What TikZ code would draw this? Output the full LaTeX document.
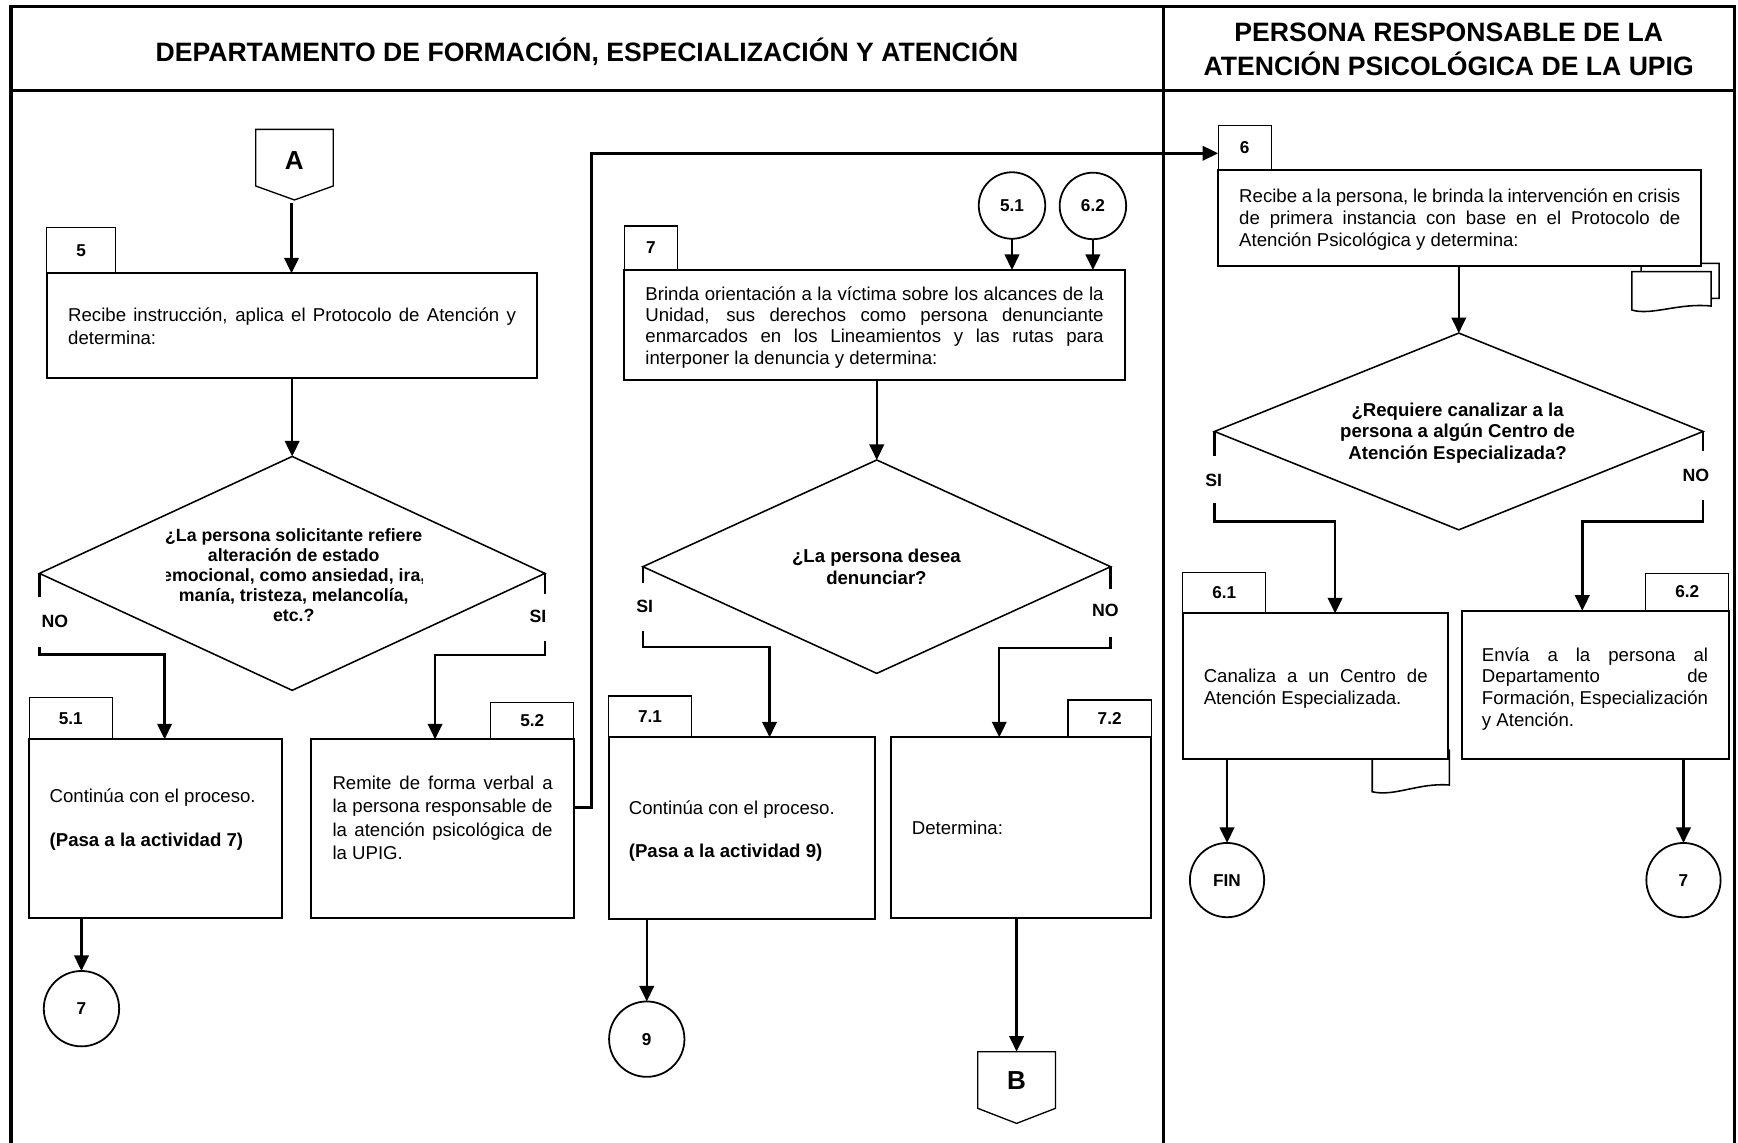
\documentclass[tikz,border=0pt]{standalone}
\usepackage{fontspec}
\setmainfont{Liberation Sans}
\usetikzlibrary{arrows.meta,shapes.geometric,calc}

% one line of justified text, stretched to the given width (pt)
\newcommand\jline[2]{\makebox[#1pt][s]{#2}}
% last line of a paragraph: left aligned in the same width
\newcommand\lline[2]{\makebox[#1pt][l]{#2}}

\begin{document}
\begin{tikzpicture}[x=1pt,y=-1pt,
  every node/.style={inner sep=0pt,outer sep=0pt},
  frame/.style={line width=3pt},
  procbox/.style={draw,rectangle,line width=1.8pt,fill=white},
  tabbox/.style={draw,rectangle,line width=1.1pt,font=\fontsize{15.5}{18}\selectfont\bfseries},
  decision/.style={draw,diamond,line width=1.4pt},
  connector/.style={draw,circle,line width=1.6pt,fill=white,font=\fontsize{15.5}{18}\selectfont\bfseries},
  pagelinkline/.style={line width=1.2pt},
  docshape/.style={draw,line width=1.4pt,fill=white},
  flow/.style={line width=2.2pt},
  arr/.style={flow,-{Triangle[length=14pt,width=13pt]}},
  body/.style={align=left,anchor=west,font=\fontsize{16.8}{19.4}\selectfont},
  question/.style={align=center,font=\fontsize{16.8}{19.5}\selectfont\bfseries},
  yn/.style={font=\fontsize{16}{18}\selectfont\bfseries},
  pagelink/.style={font=\fontsize{23.5}{26}\selectfont\bfseries},
  header/.style={font=\fontsize{24}{26}\selectfont\bfseries},
]
\useasboundingbox (0,0) rectangle (1568,1031);

% ---------- swimlane frame ----------
\draw[frame] (10,1031) -- (10,6) -- (1565,6) -- (1565,1031);
\draw[frame] (10,81.8) -- (1565,81.8);
\draw[frame] (1049.5,6) -- (1049.5,1031);

\node[header,anchor=base] (hdrL) at (529.5,55.3)
  {DEPARTAMENTO DE FORMACIÓN, ESPECIALIZACIÓN Y ATENCIÓN};
\node[header,align=center] (hdrR) at (1307,47.6)
  {\strut PERSONA RESPONSABLE DE LA\\ATENCIÓN PSICOLÓGICA DE LA UPIG\strut};

% ---------- left lane ----------
% off-page connector A
\draw[pagelinkline] (230.7,116.7) -- (300.6,116.7) -- (300.6,167.8)
  -- (265.65,180.4) -- (230.7,167.8) -- cycle;
\node[pagelink] (A) at (265.6,144.4) {A};
\coordinate (a1) at (263,183.4);

% activity 5
\node[procbox,minimum width=442.1pt,minimum height=94.1pt] (b5) at (263.25,293.65) {};
\node[tabbox,minimum width=62.2pt,minimum height=41.6pt,anchor=south west] (t5) at (b5.north west) {5};
\node[body,font=\fontsize{16.8}{20.4}\selectfont] (b5t) at (61.5,296.6)
  {\jline{404}{\strut Recibe instrucción, aplica el Protocolo de Atención y}\\
   \lline{404}{determina:\strut}};

% decision 5 (its text is cut by the text frame on both sides)
\node[decision,minimum width=456pt,minimum height=211pt] (d5) at (263.6,517.3) {};
\begin{scope}
  \clip (150,460) rectangle (381.5,580);
  \node[question,font=\fontsize{16}{18}\selectfont\bfseries] (q5) at (265,521.3)
    {\strut¿La persona solicitante refiere\\alteración de estado\\emocional, como ansiedad, ira,\\manía, tristeza, melancolía,\\etc.?\strut};
\end{scope}

% activities 5.1 and 5.2
\node[procbox,minimum width=228.1pt,minimum height=161.5pt] (b51) at (140.35,747.75) {};
\node[tabbox,minimum width=75.2pt,minimum height=37.6pt,anchor=south west] (t51) at (b51.north west) {5.1};
\node[body] (b51t) at (44.8,740.2)
  {\strut Continúa con el proceso.\\[20.3pt]\textbf{(Pasa a la actividad 7)}\strut};

\node[procbox,minimum width=236.7pt,minimum height=161.5pt] (b52) at (399.35,747.75) {};
\node[tabbox,minimum width=75.1pt,minimum height=33pt,anchor=south east] (t52) at (b52.north east) {5.2};
\node[body,font=\fontsize{16.8}{20.9}\selectfont] (b52t) at (300,739.6)
  {\jline{198.6}{\strut Remite de forma verbal a}\\
   \jline{198.6}{la persona responsable de}\\
   \jline{198.6}{la atención psicológica de}\\
   \lline{198.6}{la UPIG.\strut}};

\node[connector,minimum size=68pt] (c7a) at (73.5,910) {7};

% ---------- middle lane ----------
\node[connector,minimum size=60pt] (c51) at (913,185.4) {5.1};
\node[connector,minimum size=60pt] (c62) at (986,185.8) {6.2};

\node[procbox,minimum width=451.8pt,minimum height=99.2pt] (b7) at (789.1,293.2) {};
\node[tabbox,minimum width=48pt,minimum height=39.7pt,anchor=south west] (t7) at (b7.north west) {7};
\node[body,font=\fontsize{16.8}{19.3}\selectfont] (b7t) at (582.3,295.9)
  {\jline{413.4}{\strut Brinda orientación a la víctima sobre los alcances de la}\\
   \jline{413.4}{Unidad, sus derechos como persona denunciante}\\
   \jline{413.4}{enmarcados en los Lineamientos y las rutas para}\\
   \lline{413.4}{interponer la denuncia y determina:\strut}};

\node[decision,minimum width=422pt,minimum height=192.5pt] (d7) at (791,511.25) {};
\node[question,font=\fontsize{16.8}{19.6}\selectfont\bfseries] (q7) at (790.7,513.6)
  {\strut¿La persona desea\\denunciar?\strut};

\node[procbox,minimum width=240.3pt,minimum height=164.2pt] (b71) at (669.15,747.3) {};
\node[tabbox,minimum width=75pt,minimum height=37.2pt,anchor=south west] (t71) at (b71.north west) {7.1};
\node[body] (b71t) at (567.3,750.5)
  {\strut Continúa con el proceso.\\[19.7pt]\textbf{(Pasa a la actividad 9)}\strut};

\node[procbox,minimum width=234.9pt,minimum height=163.3pt] (b72) at (921.15,746.85) {};
\node[tabbox,minimum width=75pt,minimum height=33.7pt,anchor=south east] (t72) at (b72.north east) {7.2};
\node[body] (b72t) at (822.7,748.9) {\strut Determina:};

\node[connector,minimum size=68pt] (c9) at (583.5,937.5) {9};

% off-page connector B
\draw[pagelinkline] (882.1,948.8) -- (952.2,948.8) -- (952.2,999.9)
  -- (917.15,1013.5) -- (882.1,999.9) -- cycle;
\node[pagelink] (B) at (917.15,974.4) {B};
\coordinate (Btop) at (917.15,948.8);

% ---------- right lane ----------
% document stack under activity 6
\draw[docshape] (1480.5,237.6) -- (1551,237.6) -- (1551,269.2)
  .. controls (1530,268) and (1505,282) .. (1480.5,276) -- cycle;
\draw[docshape] (1472.2,245.1) -- (1543.7,245.1) -- (1543.7,276.1)
  .. controls (1515,273) and (1490,285) .. (1472.2,279.7) -- cycle;

\node[procbox,minimum width=436pt,minimum height=87pt] (b6) at (1317,196.5) {};
\node[tabbox,minimum width=48pt,minimum height=40pt,anchor=south west] (t6) at (b6.north west) {6};
\node[body,font=\fontsize{16.8}{19.5}\selectfont] (b6t) at (1118,198.6)
  {\jline{398}{\strut Recibe a la persona, le brinda la intervención en crisis}\\
   \jline{398}{de primera instancia con base en el Protocolo de}\\
   \lline{398}{Atención Psicológica y determina:\strut}};

\node[decision,minimum width=440.8pt,minimum height=177.5pt] (d6) at (1316.1,389.25) {};
\node[question] (q6) at (1315,391.1)
  {\strut¿Requiere canalizar a la\\persona a algún Centro de\\Atención Especializada?\strut};

% document behind activity 6.1
\draw[docshape] (1238,676.7) -- (1307.6,676.7) -- (1307.6,708.2)
  .. controls (1280,706) and (1258,719) .. (1238,714.3) -- cycle;

\node[procbox,minimum width=239.5pt,minimum height=131.6pt] (b61) at (1186.75,619.2) {};
\node[tabbox,minimum width=75pt,minimum height=36.7pt,anchor=south west] (t61) at (b61.north west) {6.1};
\node[body,font=\fontsize{16.8}{19.5}\selectfont] (b61t) at (1086,621.9)
  {\jline{202}{\strut Canaliza a un Centro de}\\
   \lline{202}{Atención Especializada.\strut}};

\node[procbox,minimum width=241pt,minimum height=134pt] (b62) at (1439.1,618) {};
\node[tabbox,minimum width=74.8pt,minimum height=33.7pt,anchor=south east] (t62) at (b62.north east) {6.2};
\node[body,font=\fontsize{16.8}{19.5}\selectfont] (b62t) at (1337,621.9)
  {\jline{204}{\strut Envía a la persona al}\\
   \jline{204}{Departamento de}\\
   \jline{204}{Formación, Especialización}\\
   \lline{204}{y Atención.\strut}};

\node[connector,minimum size=67pt] (cfin) at (1107,794) {FIN};
\node[connector,minimum size=67pt] (c7b) at (1518.8,794) {7};

% ---------- connectors ----------
\draw[arr] (a1) -- (a1 |- b5.north);
\draw[arr] (b5.south -| d5.north) -- (d5.north);

\draw[flow] (d5.west) -- ++(0,21);
\node[yn] (no5) at (49.6,560.3) {NO};
\coordinate (x51) at (148.5,0);
\draw[arr] ($(d5.west)+(0,66.1)$) -- ++(0,6.9) -| (x51 |- b51.north);

\draw[flow] (d5.east) -- ++(0,18.4);
\node[yn] (si5) at (485.3,556.4) {SI};
\coordinate (x52) at (392.5,0);
\draw[arr] ($(d5.east)+(0,60.7)$) -- ++(0,13) -| (x52 |- b52.north);

\draw[arr] (b51.south -| c7a) -- (c7a.north);

\coordinate (j6) at (0,138.3);
\draw[arr] ($(b52.east)+(0,-19.35)$) -- ++(16,0) |- (t6.west |- j6);

\draw[arr] (c51.south) -- (c51.south |- b7.north);
\draw[arr] (c62.south) -- (c62.south |- b7.north);
\draw[arr] (b7.south -| d7.north) -- (d7.north);

\draw[flow] (d7.west) -- ++(0,15.1);
\node[yn] (si7) at (581.6,547.3) {SI};
\coordinate (x71) at (694.3,0);
\draw[arr] ($(d7.west)+(0,58.3)$) -- ++(0,14.4) -| (x71 |- b71.north);

\draw[flow] (d7.east) -- ++(0,20.3);
\node[yn] (no7) at (997.3,551) {NO};
\coordinate (x72) at (901.5,0);
\draw[arr] ($(d7.east)+(0,63.1)$) -- ++(0,10.2) -| (x72 |- b72.north);

\draw[arr] (b71.south -| c9) -- (c9.north);
\draw[arr] (b72.south -| Btop) -- (Btop);

\draw[arr] (b6.south -| d6.north) -- (d6.north);

\draw[flow] (d6.west) -- ++(0,22.5);
\node[yn] (si6) at (1095,433) {SI};
\coordinate (x61) at (1204.5,0);
\draw[arr] ($(d6.west)+(0,64.5)$) -- ++(0,16.6) -| (x61 |- b61.north);

\draw[flow] (d6.east) -- ++(0,17.5);
\node[yn] (no6) at (1530,428.6) {NO};
\coordinate (x62) at (1427.5,0);
\draw[arr] ($(d6.east)+(0,61.5)$) -- ++(0,19.6) -| (x62 |- b62.north);

\draw[arr] (b61.south -| cfin) -- (cfin.north);
\draw[arr] (b62.south -| c7b) -- (c7b.north);
\end{tikzpicture}
\end{document}
